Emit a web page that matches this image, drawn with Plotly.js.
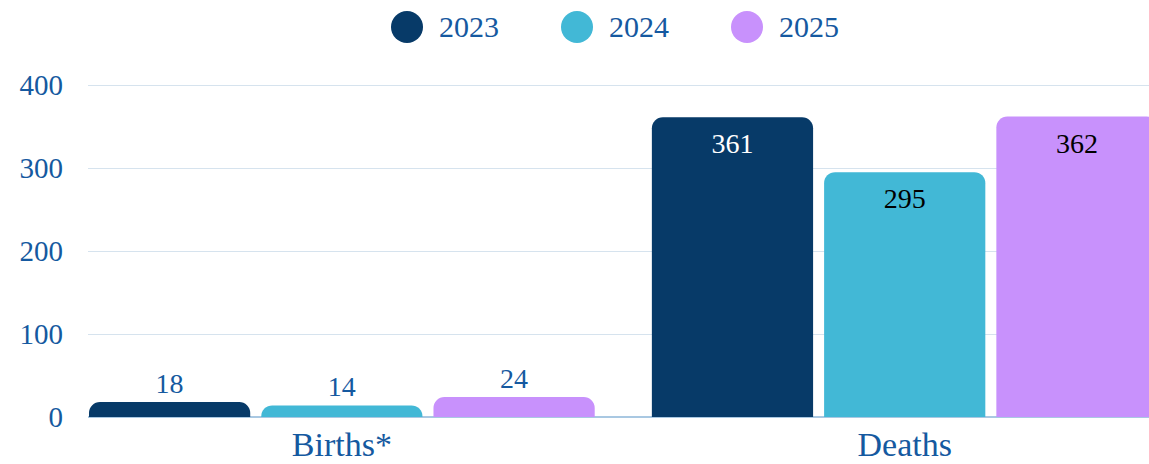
<!DOCTYPE html>
<html>
<head>
<meta charset="utf-8">
<script src="https://cdn.plot.ly/plotly-3.0.1.min.js"></script>
<style>html,body{margin:0;padding:0;background:#fff;}#chart{width:1149px;height:464px;}</style>
</head>
<body>
<div id="chart"></div>
<script>
const categories = ["Births*", "Deaths"];
const seriesNames = ["2023", "2024", "2025"];
const values2023 = [18, 361];
const values2024 = [14, 295];
const values2025 = [24, 362];
const yTicks = [0, 100, 200, 300, 400];

const colors = ["#073a68", "#42b8d6", "#c891fc"];
const insideTextColors = ["#ffffff", "#000000", "#000000"];
const labelBlue = "#1559a0";
const FONT = "Liberation Serif, DejaVu Serif, serif";

const allValues = [values2023, values2024, values2025];
const traces = allValues.map((vals, i) => ({
  type: "bar",
  name: seriesNames[i],
  x: categories,
  y: vals,
  marker: {color: colors[i], line: {width: 0}},
  text: vals.map(String),
  textposition: vals.map((v, j) => j === 0 ? "outside" : "inside"),
  insidetextanchor: "end",
  textangle: 0,
  textfont: {family: FONT, size: 28, color: vals.map((v, j) => j === 0 ? labelBlue : insideTextColors[i])},
  outsidetextfont: {family: FONT, size: 28, color: labelBlue},
  insidetextfont: {family: FONT, size: 28, color: insideTextColors[i]},
  cliponaxis: false,
  showlegend: false,
  hoverinfo: "x+y+name"
}));

// custom legend (large circles) built from the series names
const plotL = 88, plotR = 1149, plotT = 81, plotH = 336;
const shapes = [];
const annotations = [];
const legendStart = 407, legendStep = 170, legendY = 27, r = 16;
seriesNames.forEach((name, i) => {
  const cx = legendStart + i * legendStep;
  const yAnchor = 1 + (plotT - legendY) / plotH;
  shapes.push({type: "circle", xref: "paper", yref: "paper",
    xsizemode: "pixel", ysizemode: "pixel",
    xanchor: (cx - plotL) / (plotR - plotL), yanchor: yAnchor,
    x0: -r, x1: r, y0: -r, y1: r,
    fillcolor: colors[i], line: {width: 0}});
  annotations.push({xref: "paper", yref: "paper",
    x: (cx + 30 - plotL) / (plotR - plotL), y: yAnchor,
    xanchor: "left", yanchor: "middle", showarrow: false,
    text: name, font: {family: FONT, size: 30, color: labelBlue}});
});

const layout = {
  width: 1149, height: 464,
  margin: {l: plotL, r: 1149 - plotR, t: plotT, b: 464 - plotT - plotH, pad: 0},
  paper_bgcolor: "#ffffff", plot_bgcolor: "#ffffff",
  barmode: "group",
  bargap: 0.082,
  bargroupgap: 0.064,
  barcornerradius: 11,
  showlegend: false,
  xaxis: {
    type: "category",
    range: [-0.451, 1.434],
    showgrid: false, zeroline: false, showline: false,
    ticks: "", ticklabelstandoff: 4,
    tickfont: {family: FONT, size: 34, color: labelBlue}
  },
  yaxis: {
    range: [0, 336 / 0.83],
    tickvals: yTicks,
    ticktext: yTicks.map(String),
    showgrid: true, gridcolor: "#d6e3ee", gridwidth: 1,
    zeroline: true, zerolinecolor: "#a9c8e2", zerolinewidth: 1.5,
    showline: false, ticks: "",
    ticklabelstandoff: 24,
    tickfont: {family: FONT, size: 29, color: labelBlue}
  },
  shapes: shapes,
  annotations: annotations
};

Plotly.newPlot("chart", traces, layout, {displayModeBar: false, staticPlot: true});
</script>
</body>
</html>
